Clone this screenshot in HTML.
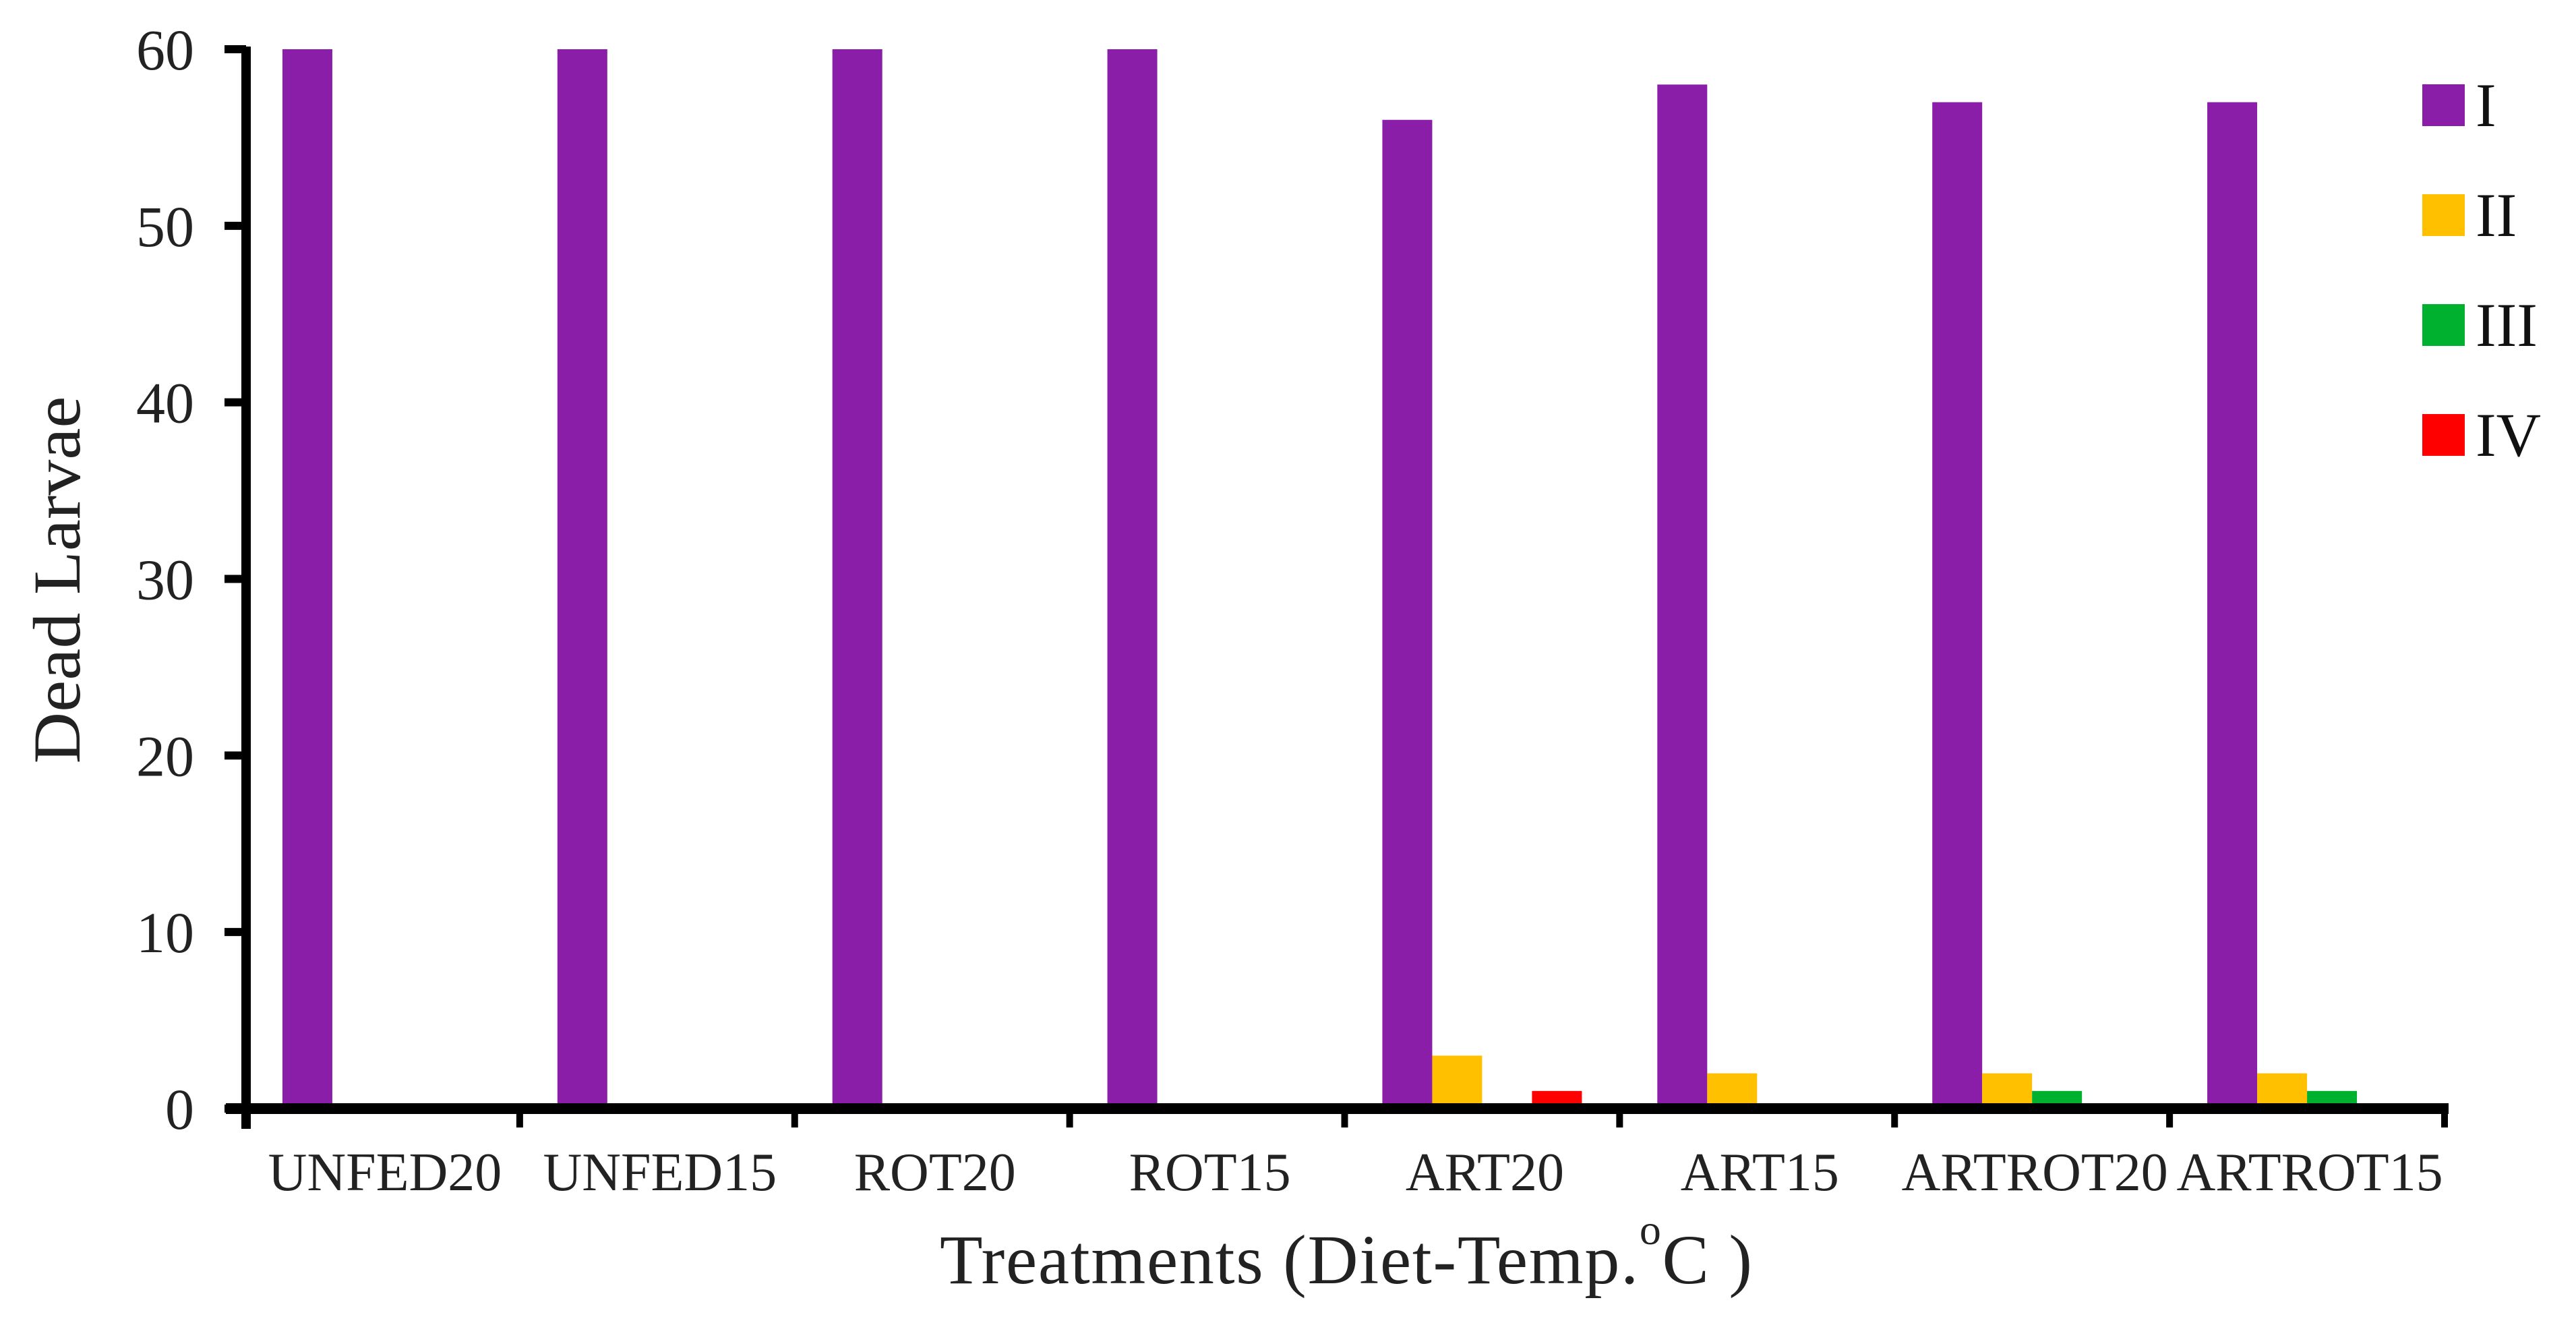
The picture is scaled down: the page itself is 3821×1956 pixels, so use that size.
<!DOCTYPE html>
<html><head><meta charset="utf-8"><style>
html,body{margin:0;padding:0;background:#fff;}
svg{display:block;font-family:"Liberation Serif",serif;}
</style></head><body>
<svg id="chart" width="3821" height="1956" viewBox="0 0 3821 1956" xmlns="http://www.w3.org/2000/svg">
<rect x="0" y="0" width="3821" height="1956" fill="#fff"/>
<g id="bars"></g>
<g id="axes"></g>
<text transform="translate(118,860) rotate(-90)" text-anchor="middle" font-size="100" fill="#222" textLength="545" lengthAdjust="spacingAndGlyphs">Dead Larvae</text>
<text x="1394" y="1903" font-size="104" fill="#222" textLength="1205" lengthAdjust="spacing">Treatments (Diet-Temp.<tspan font-size="64" dy="-58">o</tspan><tspan dy="58">C )</tspan></text>
<g id="legend"></g>
</svg>
<script>
const categories = ["UNFED20","UNFED15","ROT20","ROT15","ART20","ART15","ARTROT20","ARTROT15"];
const seriesNames = ["I","II","III","IV"];
const seriesColors = ["#8B1EA8","#FFC000","#00B12F","#FF0000"];
const valuesI = [60,60,60,60,56,58,57,57];
const valuesII = [0,0,0,0,3,2,2,2];
const valuesIII = [0,0,0,0,0,0,1,1];
const valuesIV = [0,0,0,0,1,0,0,0];
const yTicks = [0,10,20,30,40,50,60];

const NS = "http://www.w3.org/2000/svg";
const series = [valuesI, valuesII, valuesIII, valuesIV];
const x0 = 363, x1 = 3626, y0 = 1644, yTop = 73, yMax = 60;
const catW = (x1 - x0) / categories.length;
const barW = 74, groupPad = (catW - barW * 4) / 2;
function yScale(v){ return y0 - (v / yMax) * (y0 - yTop); }
function xCat(i){ return x0 + i * catW; }
function mk(tag, attrs, parent){ const e = document.createElementNS(NS, tag); for (const k in attrs) e.setAttribute(k, attrs[k]); parent.appendChild(e); return e; }

const bars = document.getElementById('bars');
series.forEach((vals, s) => {
  vals.forEach((v, i) => {
    if (v <= 0) return;
    const r = mk('rect', {x: xCat(i) + groupPad + s * barW, y: yScale(v), width: barW, height: y0 - yScale(v), fill: seriesColors[s]}, bars);
    
    
  });
});

const axes = document.getElementById('axes');
const yl = mk('line', {x1: 365, y1: yTop - 4, x2: 365, y2: y0 + 30, stroke: '#000', 'stroke-width': 14}, axes);


const xl = mk('line', {x1: 335, y1: y0, x2: x1 + 6, y2: y0, stroke: '#000', 'stroke-width': 16}, axes);


yTicks.forEach(t => {
  const y = yScale(t);
  const tk = mk('line', {x1: 333, y1: y, x2: 365, y2: y, stroke: '#000', 'stroke-width': 12}, axes);
  
  
  const tx = mk('text', {x: 288, y: y + 30, 'text-anchor': 'end', 'font-size': 86, fill: '#222'}, axes);
  tx.textContent = t;
  
  
});
for (let i = 0; i <= categories.length; i++) {
  const x = xCat(i);
  const tk = mk('line', {x1: x, y1: y0, x2: x, y2: y0 + 28, stroke: '#000', 'stroke-width': 10}, axes);
  
  
}
categories.forEach((c, i) => {
  const tx = mk('text', {x: xCat(i) + catW / 2 + 4, y: 1765, 'text-anchor': 'middle', 'font-size': 80, fill: '#222'}, axes);
  tx.textContent = c;
  
  
});

const legend = document.getElementById('legend');
seriesNames.forEach((n, s) => {
  const y = 125 + s * 163;
  const g = mk('g', {}, legend);
  
  
  const r = mk('rect', {x: 3593, y: y, width: 63, height: 62, fill: seriesColors[s]}, g);
  
  
  const t = mk('text', {x: 3672, y: y + 62, 'font-size': 92, fill: '#111'}, g);
  t.textContent = n;
  
  
});
</script>
</body></html>
